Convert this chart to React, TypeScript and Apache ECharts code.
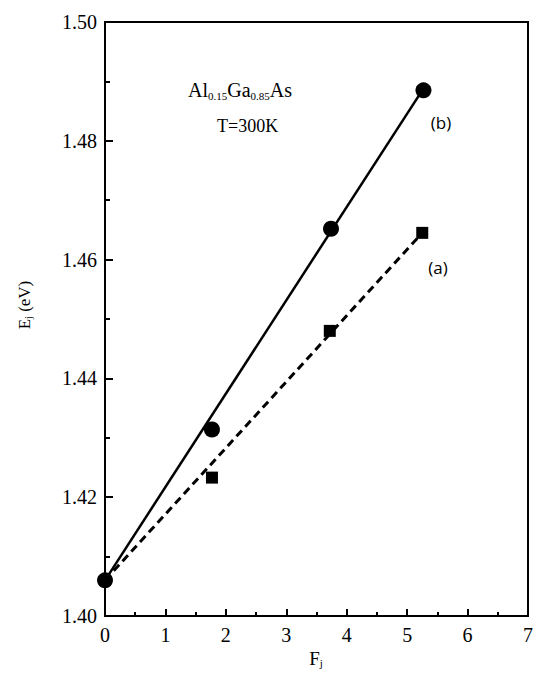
import React, { useEffect, useRef } from "react";
import * as echarts from "echarts";

const xTicks = [0, 1, 2, 3, 4, 5, 6, 7];
const yTicks = [1.4, 1.42, 1.44, 1.46, 1.48, 1.5];
const circleX = [0, 1.77, 3.74, 5.27];
const circleY = [1.406, 1.4314, 1.4652, 1.4885];
const squareX = [1.77, 3.72, 5.25];
const squareY = [1.4233, 1.448, 1.4645];
const lineBX = [0, 5.25];
const lineBY = [1.406, 1.4885];
const lineAX = [0, 5.25];
const lineAY = [1.406, 1.4645];

const serif = "'Liberation Serif', 'DejaVu Serif', serif";

export default function App() {
  const ref = useRef<HTMLDivElement>(null);
  useEffect(() => {
    if (!ref.current) return;
    const chart = echarts.init(ref.current, undefined, { renderer: "svg" });
    const zip = (xs: number[], ys: number[]) => xs.map((x, i) => [x, ys[i]]);
    chart.setOption({
      animation: false,
      backgroundColor: "#fff",
      grid: {
        left: 105,
        top: 22,
        right: 4,
        bottom: 71,
        show: true,
        borderColor: "#000",
        borderWidth: 2,
      },
      xAxis: {
        type: "value",
        min: xTicks[0],
        max: xTicks[xTicks.length - 1],
        interval: 1,
        axisLine: { show: true, lineStyle: { color: "#000", width: 2 } },
        axisTick: { show: true, inside: true, length: 7, lineStyle: { color: "#000", width: 2 } },
        minorTick: { show: true, splitNumber: 2, length: 4, lineStyle: { color: "#000", width: 2 } },
        splitLine: { show: false },
        axisLabel: { color: "#000", fontFamily: serif, fontSize: 20, margin: 9 },
      },
      yAxis: {
        type: "value",
        min: yTicks[0],
        max: yTicks[yTicks.length - 1],
        interval: 0.02,
        axisLine: { show: true, lineStyle: { color: "#000", width: 2 } },
        axisTick: { show: true, inside: true, length: 8, lineStyle: { color: "#000", width: 2 } },
        minorTick: { show: true, splitNumber: 2, length: 5, lineStyle: { color: "#000", width: 2 } },
        splitLine: { show: false },
        axisLabel: {
          color: "#000",
          fontFamily: serif,
          fontSize: 20,
          margin: 8,
          formatter: (v: number) => v.toFixed(2),
        },
      },
      graphic: [
        {
          type: "text",
          x: 188,
          y: 90,
          style: {
            text: "{m|Al}{s|0.15}{m|Ga}{s|0.85}{m|As}",
            fill: "#000",
            align: "left",
            verticalAlign: "middle",
            rich: {
              m: { fontFamily: serif, fontSize: 20, lineHeight: 22, fill: "#000" },
              s: { fontFamily: serif, fontSize: 11, lineHeight: 11, verticalAlign: "bottom", fill: "#000" },
            },
          },
        },
        {
          type: "text",
          x: 217,
          y: 126,
          style: {
            text: "T=300K",
            fill: "#000",
            font: `18px ${serif}`,
            align: "left",
            verticalAlign: "middle",
          },
        },
        {
          type: "text",
          x: 441,
          y: 122,
          style: {
            text: "(b)",
            fill: "#000",
            font: "17px 'Open Sans', sans-serif",
            align: "center",
            verticalAlign: "middle",
          },
        },
        {
          type: "text",
          x: 438,
          y: 267,
          style: {
            text: "(a)",
            fill: "#000",
            font: "17px 'Open Sans', sans-serif",
            align: "center",
            verticalAlign: "middle",
          },
        },
        {
          type: "text",
          x: 316,
          y: 658,
          style: {
            text: "{m|F}{s|j}",
            fill: "#000",
            align: "center",
            verticalAlign: "middle",
            rich: {
              m: { fontFamily: serif, fontSize: 19, lineHeight: 20, fill: "#000" },
              s: { fontFamily: serif, fontSize: 11, lineHeight: 11, verticalAlign: "bottom", fill: "#000" },
            },
          },
        },
        {
          type: "text",
          x: 24,
          y: 305,
          rotation: Math.PI / 2,
          style: {
            text: "{m|E}{s|j}{m| (eV)}",
            fill: "#000",
            align: "center",
            verticalAlign: "middle",
            rich: {
              m: { fontFamily: serif, fontSize: 17, lineHeight: 18, fill: "#000" },
              s: { fontFamily: serif, fontSize: 10, lineHeight: 10, verticalAlign: "bottom", fill: "#000" },
            },
          },
        },
      ],
      series: [
        {
          name: "b-line",
          type: "line",
          data: zip(lineBX, lineBY),
          showSymbol: false,
          lineStyle: { color: "#000", width: 2.5, type: "solid" },
          z: 2,
        },
        {
          name: "a-line",
          type: "line",
          data: zip(lineAX, lineAY),
          showSymbol: false,
          lineStyle: { color: "#000", width: 3, type: [8, 5] },
          z: 2,
        },
        {
          name: "b",
          type: "scatter",
          data: zip(circleX, circleY),
          symbol: "circle",
          symbolSize: 16,
          itemStyle: { color: "#000", opacity: 1 },
          z: 3,
        },
        {
          name: "a",
          type: "scatter",
          data: zip(squareX, squareY),
          symbol: "rect",
          symbolSize: 12,
          itemStyle: { color: "#000", opacity: 1 },
          z: 3,
        },
      ],
    });
    return () => chart.dispose();
  }, []);
  return (
    <div
      ref={ref}
      style={{ width: 536, height: 687, position: "absolute", left: 0, top: 0, background: "#fff" }}
    />
  );
}
